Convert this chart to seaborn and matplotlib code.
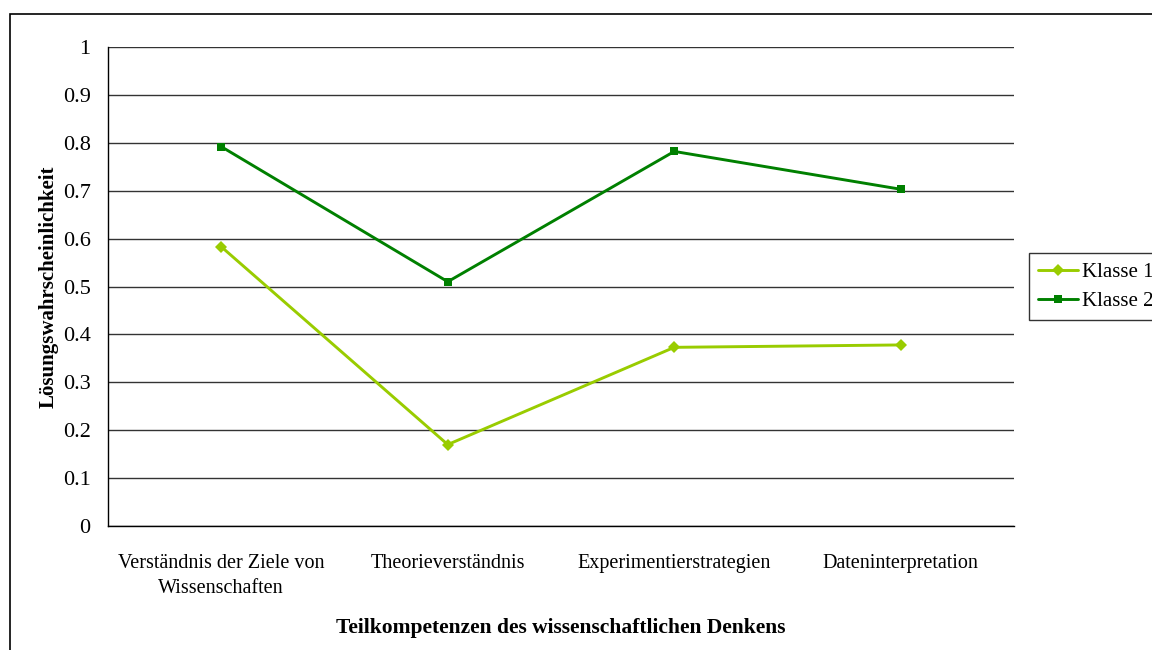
import matplotlib
matplotlib.use("Agg")
import matplotlib.pyplot as plt
from matplotlib.patches import Rectangle
from matplotlib.ticker import FixedLocator
import seaborn as sns
import pandas as pd

categories = [
    "Verständnis der Ziele von\nWissenschaften",
    "Theorieverständnis",
    "Experimentierstrategien",
    "Dateninterpretation",
]
klasse1 = [0.583, 0.170, 0.373, 0.378]
klasse2 = [0.792, 0.510, 0.782, 0.703]
series_names = ["Klasse 1", "Klasse 2"]
yticks = [0, 0.1, 0.2, 0.3, 0.4, 0.5, 0.6, 0.7, 0.8, 0.9, 1.0]
ytick_labels = ["0", "0.1", "0.2", "0.3", "0.4", "0.5", "0.6", "0.7", "0.8", "0.9", "1"]

df = pd.DataFrame({
    "Kategorie": categories * 2,
    "Wert": klasse1 + klasse2,
    "Klasse": [series_names[0]] * 4 + [series_names[1]] * 4,
})

sns.set_theme(style="white")
plt.rcParams["font.family"] = ["Liberation Serif", "DejaVu Serif"]
plt.rcParams["text.color"] = "black"
plt.rcParams["axes.labelcolor"] = "black"

fig = plt.figure(figsize=(11.52, 6.5), dpi=100)
ax = fig.add_axes([108 / 1152, 1 - 526 / 650, (1014 - 108) / 1152, (526 - 47) / 650])

palette = {"Klasse 1": "#99CC00", "Klasse 2": "#008000"}
markers = {"Klasse 1": "D", "Klasse 2": "s"}
sns.lineplot(
    data=df, x="Kategorie", y="Wert", hue="Klasse", style="Klasse",
    palette=palette, markers=markers, dashes=False, linewidth=2.1,
    markersize=6, markeredgewidth=0, ax=ax, sort=False,
)

ax.set_xlim(-0.5, len(categories) - 0.5)
ax.set_ylim(0, 1)
ax.set_yticks(yticks)
ax.set_yticklabels(ytick_labels, fontsize=16)
ax.yaxis.grid(True, color="#333333", linewidth=1)
ax.set_axisbelow(True)

# category boundaries carry the tick marks, labels sit at the centres
ax.set_xticks(range(len(categories)))
ax.set_xticklabels(categories, fontsize=14.5, linespacing=1.45)
ax.xaxis.set_minor_locator(FixedLocator([i - 0.5 for i in range(len(categories) + 1)]))
ax.tick_params(axis="x", which="major", length=0, pad=20)
ax.tick_params(axis="x", which="minor", length=6, width=1, color="black", direction="out")
ax.tick_params(axis="y", length=6, width=1, color="black", direction="out", pad=6.5)
ax.tick_params(axis="both", labelcolor="black")

for side in ["top", "right"]:
    ax.spines[side].set_visible(False)
for side in ["left", "bottom"]:
    ax.spines[side].set_color("black")
    ax.spines[side].set_linewidth(1)

ax.set_xlabel("Teilkompetenzen des wissenschaftlichen Denkens", fontsize=15.5,
              fontweight="bold", labelpad=14)
ax.set_ylabel("Lösungswahrscheinlichkeit", fontsize=15, fontweight="bold", labelpad=3)

handles, labels = ax.get_legend_handles_labels()
leg = ax.legend(handles, labels, loc="upper left", bbox_to_anchor=(1029 / 1152, 1 - 253 / 650),
                bbox_transform=fig.transFigure, frameon=True, fancybox=False,
                fontsize=15, handlelength=1.9, handletextpad=0.2, borderpad=0.45,
                labelspacing=0.45, borderaxespad=0)
leg.get_frame().set_edgecolor("black")
leg.get_frame().set_linewidth(1)
for t in leg.get_texts():
    t.set_color("black")

# chart frame around the whole drawing
fig.patches.append(Rectangle((10 / 1152, -0.1), 2.0, (650 - 14) / 650 + 0.1,
                             transform=fig.transFigure, fill=False,
                             edgecolor="black", linewidth=1.2))

fig.savefig("out.png", dpi=100)
